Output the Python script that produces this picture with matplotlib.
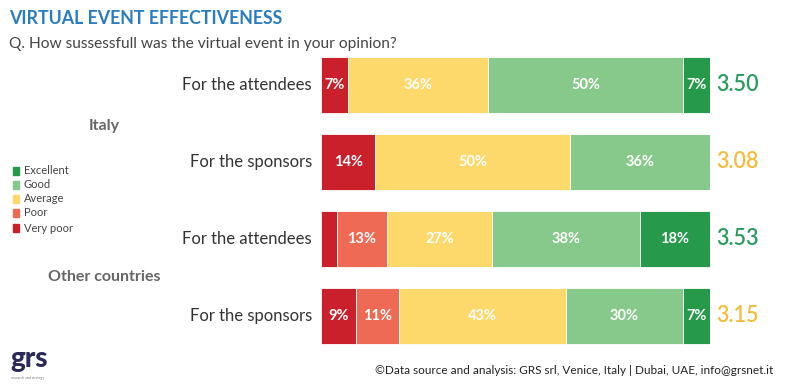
import matplotlib
matplotlib.use("Agg")
import matplotlib.pyplot as plt
import numpy as np

plt.rcParams['font.family'] = ['Lato', 'DejaVu Sans']

rows = ["For the attendees", "For the sponsors", "For the attendees", "For the sponsors"]
groups = ["Italy", "Other countries"]
categories = ["Very poor", "Poor", "Average", "Good", "Excellent"]
very_poor = [7, 14, 4, 9]
poor = [0, 0, 13, 11]
average = [36, 50, 27, 43]
good = [50, 36, 38, 30]
excellent = [7, 0, 18, 7]
scores = ["3.50", "3.08", "3.53", "3.15"]
show_label = [[True, False, True, True, True],
              [True, False, True, True, False],
              [False, True, True, True, True],
              [True, True, True, True, True]]

colors = ["#c9202c", "#ee6a55", "#fdd86b", "#86c98a", "#27994b"]
score_colors = ["#2a9a5e", "#f2bd3c", "#2a9a5e", "#f2bd3c"]

W, H = 789, 387
fig = plt.figure(figsize=(W / 100, H / 100), dpi=100)
fig.patch.set_facecolor("white")

def px(x, y):
    return x / W, 1 - y / H

x0, x1 = 321, 710
ax = fig.add_axes([x0 / W, 0, (x1 - x0) / W, 1])
c0, step = 85, 77
ax.set_ylim((H - c0) / step, (0 - c0) / step)
ax.set_xlim(0, 100)
ax.axis("off")

series = [very_poor, poor, average, good, excellent]
ypos = np.arange(len(rows))
left = np.zeros(len(rows))
for k, vals in enumerate(series):
    vals = np.array(vals, dtype=float)
    ax.barh(ypos, vals, left=left, height=56 / step, color=colors[k],
            edgecolor="white", linewidth=0.6)
    for i, v in enumerate(vals):
        if v > 0 and show_label[i][k]:
            ax.text(left[i] + v / 2, ypos[i], f"{int(v)}%", ha="center", va="center",
                    color="white", fontsize=10.5, fontweight="bold")
    left += vals

for i in range(len(rows)):
    ax.text(101.5, ypos[i], scores[i], ha="left", va="center", color=score_colors[i],
            fontsize=15.5, fontweight="semibold")
    ax.text(-2.3, ypos[i], rows[i], ha="right", va="center", color="#333333",
            fontsize=12)

fig.text(*px(104, 126), groups[0], ha="center", va="center", color="#666666",
         fontsize=11.5, fontweight="bold")
fig.text(*px(104, 277), groups[1], ha="center", va="center", color="#666666",
         fontsize=11.5, fontweight="bold")

fig.text(*px(9, 19), "VIRTUAL EVENT EFFECTIVENESS", ha="left", va="center",
         color="#2a7cc0", fontsize=12.8, fontweight="bold")
fig.text(*px(9, 44), "Q. How sussessfull was the virtual event in your opinion?",
         ha="left", va="center", color="#444444", fontsize=11.2)

leg_y = [171, 185, 199, 213, 228]
leg_items = list(zip(categories, colors))[::-1]
for (name, col), yy in zip(leg_items, leg_y):
    fig.patches.append(plt.Rectangle(px(13, yy + 4), 6 / W, 8 / H, color=col,
                                     transform=fig.transFigure, figure=fig))
    fig.text(*px(24, yy), name, ha="left", va="center", color="#444444", fontsize=8)

fig.text(*px(10, 359), "grs", ha="left", va="center", color="#2b2a57",
         fontsize=20, fontweight="black")
fig.text(*px(11, 378), "research and strategy", ha="left", va="center",
         color="#777777", fontsize=2.5)

fig.text(*px(773, 370), "©Data source and analysis: GRS srl, Venice, Italy | Dubai, UAE, info@grsnet.it",
         ha="right", va="center", color="#222222", fontsize=8.5)

fig.savefig("out.png", dpi=100, facecolor="white")
